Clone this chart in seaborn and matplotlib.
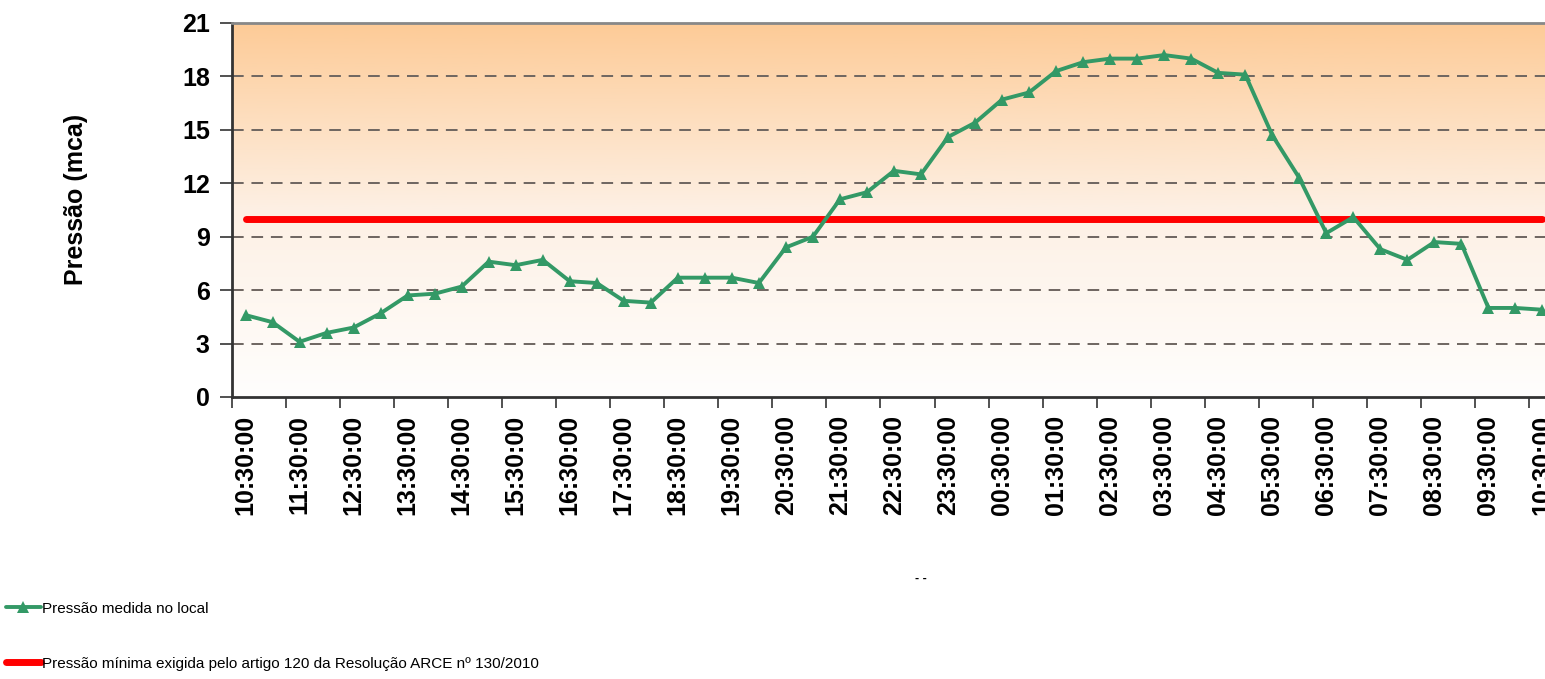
import numpy as np
import pandas as pd
import matplotlib
matplotlib.use('Agg')
import matplotlib.pyplot as plt
import seaborn as sns

# --- dados (leituras a cada 30 min) ---
pressao_medida = [4.6, 4.2, 3.1, 3.6, 3.9, 4.7, 5.7, 5.8, 6.2, 7.6,
                  7.4, 7.7, 6.5, 6.4, 5.4, 5.3, 6.7, 6.7, 6.7, 6.4,
                  8.4, 9.0, 11.1, 11.5, 12.7, 12.5, 14.6, 15.4, 16.7, 17.1,
                  18.3, 18.8, 19.0, 19.0, 19.2, 19.0, 18.2, 18.1, 14.7, 12.3,
                  9.2, 10.1, 8.3, 7.7, 8.7, 8.6, 5.0, 5.0, 4.9]
pressao_minima = 10.0
rotulos_hora = ['10:30:00', '11:30:00', '12:30:00', '13:30:00', '14:30:00',
                '15:30:00', '16:30:00', '17:30:00', '18:30:00', '19:30:00',
                '20:30:00', '21:30:00', '22:30:00', '23:30:00', '00:30:00',
                '01:30:00', '02:30:00', '03:30:00', '04:30:00', '05:30:00',
                '06:30:00', '07:30:00', '08:30:00', '09:30:00', '10:30:00']
y_ticks = [0, 3, 6, 9, 12, 15, 18, 21]

label_medida = 'Pressão medida no local'
label_minima = 'Pressão mínima exigida pelo artigo 120 da Resolução ARCE nº 130/2010'

n = len(pressao_medida)
df = pd.DataFrame({'pos': np.arange(n),
                   'medida': pressao_medida,
                   'minima': np.full(n, pressao_minima)})

sns.set_style('white')
plt.rcParams['font.family'] = ['Liberation Sans', 'DejaVu Sans']
plt.rcParams['text.color'] = 'black'
plt.rcParams['axes.labelcolor'] = 'black'
plt.rcParams['xtick.color'] = 'black'
plt.rcParams['ytick.color'] = 'black'

fig = plt.figure(figsize=(15.45, 6.79), dpi=100)
ax = fig.add_axes([232 / 1545, 1 - 397 / 679, 1 - 232 / 1545, (397 - 23) / 679])

# fundo em degradê (laranja claro -> branco)
grad = np.linspace(1, 0, 256).reshape(-1, 1)
cmap = matplotlib.colors.LinearSegmentedColormap.from_list('fundo', ['#fffefd', '#fdf0e4', '#fdcb97'])
ax.imshow(grad, aspect='auto', cmap=cmap, extent=[0, 1, 0, 1],
          transform=ax.transAxes, zorder=0)

for y in y_ticks[1:-1]:
    ax.axhline(y, color='#6e6560', lw=1.4, ls=(0, (6, 4)), zorder=1)

sns.lineplot(data=df, x='pos', y='minima', ax=ax, color='#ff0000', lw=5,
             solid_capstyle='round', label=label_minima, zorder=3)
sns.lineplot(data=df, x='pos', y='medida', ax=ax, color='#339966', lw=2.8,
             marker='^', markersize=8, markeredgewidth=0, label=label_medida,
             zorder=4)

ax.set_xlim(-0.5, (1545 - 245.5) / 27.02)
ax.set_ylim(0, 21)
ax.set_yticks(y_ticks)
ax.set_yticklabels([str(v) for v in y_ticks], fontsize=18, fontweight='bold')
ax.set_xticks(np.arange(-0.5, n, 2))
ax.set_xticklabels([])
ax.set_xticks(np.arange(0, n, 2), minor=True)
ax.set_xticklabels(rotulos_hora, minor=True, rotation=90, fontsize=18,
                   fontweight='bold', va='top')
ax.tick_params(axis='x', which='major', direction='out', length=8, width=1.2,
               color='#333333', bottom=True)
ax.tick_params(axis='x', which='minor', length=0, pad=13, bottom=True)
ax.tick_params(axis='y', direction='out', length=9, width=1.2, color='#333333',
               pad=7, left=True)

ax.set_ylabel('Pressão (mca)', fontsize=18, fontweight='bold')
ax.yaxis.set_label_coords(-(232 - 88) / (1545 - 232), 0.527)
ax.set_xlabel('- -', fontsize=9, fontweight='bold')
ax.xaxis.set_label_coords((921 - 232) / (1545 - 232), -(573 - 397) / (397 - 23))

for s in ['left', 'bottom']:
    ax.spines[s].set_color('#333333')
    ax.spines[s].set_linewidth(2)
ax.spines['top'].set_color('#888888')
ax.spines['top'].set_linewidth(2)
ax.spines['right'].set_visible(False)

h, l = ax.get_legend_handles_labels()
order = [l.index(label_medida), l.index(label_minima)]
ax.legend([h[i] for i in order], [l[i] for i in order],
          loc='upper left', bbox_to_anchor=(4 / 1545, 1 - 600 / 679),
          bbox_transform=fig.transFigure, frameon=False, fontsize=11,
          handlelength=2.3, handletextpad=0.1, labelspacing=2.7,
          borderaxespad=0, borderpad=0.1)

fig.savefig('out.png', dpi=100)
